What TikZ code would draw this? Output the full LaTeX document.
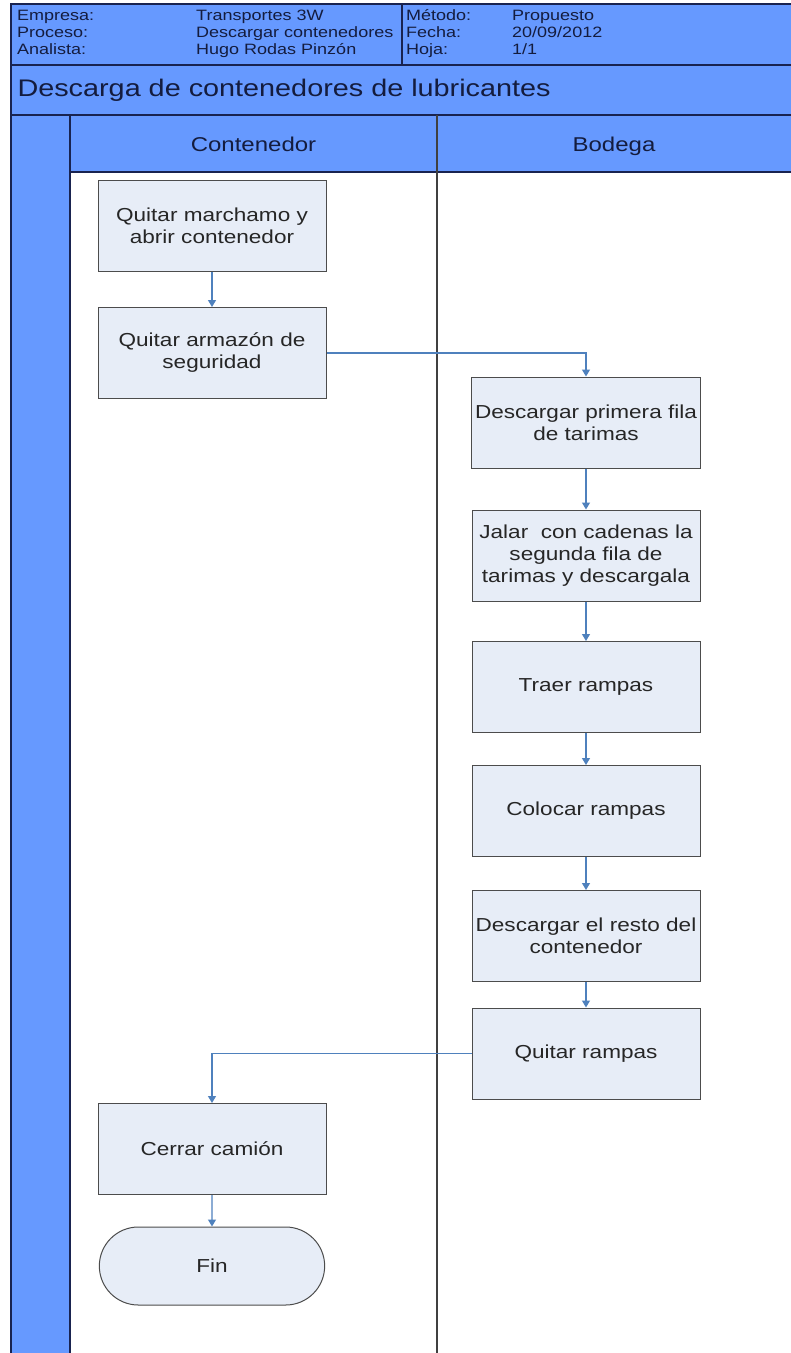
\documentclass[tikz,border=0pt]{standalone}
\usepackage{fontspec}
\setmainfont{Liberation Sans}[FakeStretch=1.2]
\usetikzlibrary{arrows.meta, positioning, shapes.misc}

\definecolor{bandblue}{RGB}{102,153,255}
\definecolor{bandline}{RGB}{25,35,80}
\definecolor{boxfill}{RGB}{231,237,247}
\definecolor{flowblue}{RGB}{79,129,189}
\definecolor{inktext}{RGB}{20,28,62}

\begin{document}
\begin{tikzpicture}[
    x=1pt, y=-1pt,
    band/.style={draw=bandline, line width=1.6pt, fill=bandblue},
    hdr/.style={anchor=west, inner sep=0pt, text height=11pt, text depth=3pt, text=inktext,
        font=\fontsize{15}{17}\selectfont},
    lane/.style={text=inktext, text height=14pt, text depth=0pt, font=\fontsize{20}{24}\selectfont},
    proc/.style={draw=black!70, line width=1pt, fill=boxfill, minimum width=228pt,
        minimum height=91pt, align=center, text=black!85, font=\fontsize{18.8}{22}\selectfont},
    arrow/.style={-{Triangle[length=7pt, width=8pt]}, flowblue, line width=1.3pt}
]

\useasboundingbox (0,0) rectangle (791,1353);
\fill[white] (0,0) rectangle (791,1353);

% ============ HEADER ============
\draw[band] (11,4) rectangle (800,65);
\draw[bandline, line width=1.2pt] (402,4) -- (402,65);

\node[hdr] (empresa) at (17,16) {Empresa:};
\node[hdr] (proceso) at (17,33) {Proceso:};
\node[hdr] (analista) at (17,50) {Analista:};
\node[hdr] (empresaval) at (196,16) {Transportes 3W};
\node[hdr] (procesoval) at (196,33) {Descargar contenedores};
\node[hdr] (analistaval) at (196,50) {Hugo Rodas Pinzón};
\node[hdr] (metodo) at (406,16) {Método:};
\node[hdr] (fecha) at (406,33) {Fecha:};
\node[hdr] (hoja) at (406,50) {Hoja:};
\node[hdr] (metodoval) at (512,16) {Propuesto};
\node[hdr] (fechaval) at (512,33) {20/09/2012};
\node[hdr] (hojaval) at (512,50) {1/1};

% Title
\draw[band] (11,65) rectangle (800,115);
\node[anchor=west, text=inktext, font=\fontsize{24}{28}\selectfont] (title) at (14,90) {Descarga de contenedores de lubricantes};

% ============ LANES ============
\draw[band] (70,115) rectangle (800,172);
\draw[band] (11,115) rectangle (70,1360);
\draw[black!75, line width=1.6pt] (437,115) -- (437,1360);

\node[lane] (contenedor) at (253.5,144) {Contenedor};
\node[lane] (bodega) at (614,144) {Bodega};

% Contenedor steps
\node[proc] (abrir) at (212,225.5) {Quitar marchamo y\\abrir contenedor};
\node[proc] (armazon) at (212,353) {Quitar armazón de\\seguridad};

% Bodega steps
\begin{scope}[every node/.append style={minimum width=240pt}]
    \node[proc] (primera) at (586,422.5) {Descargar primera fila\\de tarimas};
    \node[proc] (segunda) at (586,555.5) {Jalar\ \ con cadenas la\\segunda fila de\\tarimas y descargala};
    \node[proc] (traer) at (586,687) {Traer rampas};
    \node[proc] (colocar) at (586,811) {Colocar rampas};
    \node[proc] (resto) at (586,936) {Descargar el resto del\\contenedor};
    \node[proc] (quitar) at (586,1053.5) {Quitar rampas};
\end{scope}

% Closing
\node[proc] (cerrar) at (212,1149) {Cerrar camión};
\node[proc, rounded rectangle, minimum width=232pt, minimum height=78pt] (fin) at (212,1266) {Fin};

% Flow
\draw[arrow] (abrir) -- (armazon);
\draw[arrow] (armazon.east) -| (primera.north);
\draw[arrow] (primera) -- (segunda);
\draw[arrow] (segunda) -- (traer);
\draw[arrow] (traer) -- (colocar);
\draw[arrow] (colocar) -- (resto);
\draw[arrow] (resto) -- (quitar);
\draw[arrow] (quitar.west) -| (cerrar.north);
\draw[arrow] (cerrar) -- (fin);

\end{tikzpicture}
\end{document}
